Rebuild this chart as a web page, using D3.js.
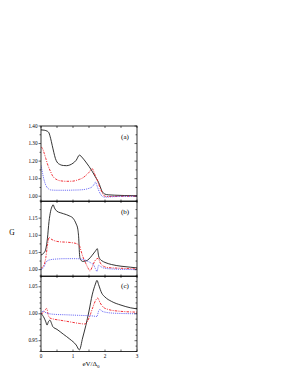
<!DOCTYPE html>
<html><head><meta charset="utf-8">
<script src="https://cdn.jsdelivr.net/npm/d3@7"></script>
<style>body{margin:0;background:#fff}svg{display:block}</style>
</head><body><svg id="c" width="291" height="376"></svg>
<script>
// ---- data ----
const panelLabels = ["(a)", "(b)", "(c)"];
const yDomains = [[0.97, 1.40], [0.98, 1.20], [0.93, 1.07]];
const yMajorTicks = [[1.00, 1.10, 1.20, 1.30, 1.40], [1.00, 1.05, 1.10, 1.15], [0.95, 1.00, 1.05]];
const yMinorStep = [0.05, 0.025, 0.01];
const xTicks = [0, 1, 2, 3];

const aBlackX = [0,0.1,0.2,0.25,0.3,0.35,0.4,0.45,0.5,0.6,0.7,0.8,0.9,1.0,1.1,1.2,1.3,1.4,1.5,1.6,1.7,1.8,1.85,1.9,1.95,2.0,2.1,2.3,2.6,3.0];
const aBlackY = [1.378,1.376,1.370,1.36,1.33,1.29,1.25,1.215,1.195,1.18,1.175,1.174,1.178,1.188,1.205,1.234,1.218,1.195,1.17,1.142,1.11,1.078,1.055,1.03,1.018,1.012,1.008,1.006,1.004,1.003];
const aRedX = [0,0.05,0.1,0.15,0.2,0.25,0.3,0.35,0.4,0.5,0.6,0.8,1.0,1.1,1.2,1.3,1.4,1.5,1.6,1.65,1.7,1.75,1.8,1.85,1.9,1.95,2.0,2.1,2.3,3.0];
const aRedY = [1.282,1.27,1.245,1.215,1.185,1.16,1.14,1.12,1.107,1.094,1.088,1.085,1.086,1.09,1.096,1.104,1.118,1.136,1.157,1.14,1.115,1.095,1.07,1.045,1.025,1.008,1.0,0.998,0.999,1.0];
const aBlueX = [0,0.05,0.1,0.15,0.2,0.25,0.3,0.5,0.8,1.0,1.2,1.4,1.5,1.6,1.65,1.7,1.75,1.8,1.85,1.9,1.95,2.0,2.2,2.5,3.0];
const aBlueY = [1.175,1.13,1.09,1.063,1.048,1.04,1.036,1.034,1.034,1.035,1.036,1.04,1.045,1.054,1.065,1.08,1.06,1.035,1.015,1.002,0.996,0.995,0.997,0.999,1.0];

const bBlackX = [0,0.05,0.1,0.15,0.2,0.25,0.3,0.35,0.38,0.42,0.5,0.6,0.7,0.8,0.9,1.0,1.05,1.1,1.15,1.18,1.2,1.22,1.3,1.4,1.5,1.6,1.7,1.76,1.8,1.85,1.9,2.0,2.2,2.5,2.8,3.0];
const bBlackY = [1.043,1.045,1.05,1.06,1.09,1.14,1.17,1.185,1.189,1.18,1.17,1.166,1.163,1.16,1.156,1.15,1.143,1.133,1.118,1.09,1.05,1.033,1.024,1.025,1.031,1.042,1.054,1.061,1.04,1.03,1.026,1.021,1.015,1.01,1.007,1.005];
const bRedX = [0,0.05,0.1,0.15,0.2,0.25,0.3,0.4,0.6,0.8,1.0,1.1,1.2,1.25,1.3,1.4,1.48,1.53,1.6,1.68,1.75,1.79,1.85,1.95,2.1,2.5,3.0];
const bRedY = [1.003,1.008,1.015,1.035,1.07,1.094,1.09,1.085,1.081,1.08,1.078,1.076,1.07,1.055,1.04,1.018,1.003,0.996,1.008,1.025,1.032,1.033,1.02,1.01,1.006,1.004,1.002];
const bBlueX = [0,0.05,0.1,0.15,0.2,0.3,0.5,0.8,1.1,1.3,1.45,1.55,1.65,1.7,1.75,1.8,1.85,1.95,2.2,3.0];
const bBlueY = [1.0,1.003,1.01,1.02,1.026,1.029,1.031,1.032,1.032,1.03,1.025,1.02,1.013,1.003,0.995,1.013,1.01,1.005,1.002,1.0];

const cBlackX = [0,0.05,0.1,0.15,0.19,0.23,0.28,0.33,0.37,0.5,0.7,0.9,1.1,1.2,1.3,1.4,1.5,1.6,1.7,1.75,1.8,1.9,2.0,2.2,2.5,2.8,3.0];
const cBlackY = [1.001,0.997,0.992,0.985,0.979,0.985,0.988,0.982,0.976,0.971,0.962,0.953,0.942,0.933,0.955,0.978,1.005,1.035,1.055,1.062,1.054,1.038,1.031,1.023,1.016,1.011,1.009];
const cRedX = [0,0.07,0.12,0.18,0.22,0.28,0.4,0.6,0.9,1.2,1.37,1.45,1.55,1.62,1.7,1.77,1.85,1.95,2.1,2.4,3.0];
const cRedY = [1.0,1.002,1.006,1.01,0.999,0.992,0.99,0.988,0.985,0.982,0.981,0.986,1.0,1.012,1.024,1.029,1.02,1.012,1.008,1.005,1.003];
const cBlueX = [0,0.07,0.12,0.2,0.4,0.8,1.2,1.6,1.75,1.8,1.84,1.9,2.0,2.3,3.0];
const cBlueY = [1.0,1.005,1.003,1.001,0.999,0.998,0.997,0.996,0.995,1.005,1.008,1.005,1.003,1.001,1.0];

const panels = [
  [[aBlackX,aBlackY],[aRedX,aRedY],[aBlueX,aBlueY]],
  [[bBlackX,bBlackY],[bRedX,bRedY],[bBlueX,bBlueY]],
  [[cBlackX,cBlackY],[cRedX,cRedY],[cBlueX,cBlueY]]
];
const styles = [
  {stroke:"#111", dash:null, w:0.85},
  {stroke:"#ee1c24", dash:"2.5,1.2,1,1.2", w:0.9},
  {stroke:"#4a4af2", dash:"0.9,1", w:0.9}
];

// ---- layout ----
const L = 41, R = 137;
const tops = [126, 201, 276], H = 75.5;
const svg = d3.select("#c");
const x = d3.scaleLinear().domain([0, 3]).range([L, R]);
const font = "'Liberation Serif','Times New Roman',serif";

panels.forEach((series, i) => {
  const top = tops[i], bot = top + H;
  const y = d3.scaleLinear().domain(yDomains[i]).range([bot, top]);
  const g = svg.append("g");
  const clipId = "clip" + i;
  g.append("clipPath").attr("id", clipId).append("rect")
    .attr("x", L).attr("y", top).attr("width", R - L).attr("height", H);

  const line = d3.line().x(d => x(d[0])).y(d => y(d[1])).curve(d3.curveMonotoneX);
  series.forEach((s, k) => {
    const pts = s[0].map((v, j) => [v, s[1][j]]);
    g.append("path").attr("d", line(pts)).attr("fill", "none")
      .attr("stroke", styles[k].stroke).attr("stroke-width", styles[k].w)
      .attr("stroke-dasharray", styles[k].dash)
      .attr("clip-path", `url(#${clipId})`);
  });

  // frame
  g.append("rect").attr("x", L).attr("y", top).attr("width", R - L).attr("height", H)
    .attr("fill", "none").attr("stroke", "#000").attr("stroke-width", 0.8);

  // y ticks
  const [d0, d1] = yDomains[i];
  const minor = d3.range(Math.ceil(d0 / yMinorStep[i] - 1e-6), Math.floor(d1 / yMinorStep[i] + 1e-6) + 1)
    .map(k => +(k * yMinorStep[i]).toFixed(4));
  minor.forEach(v => {
    const isMaj = yMajorTicks[i].some(m => Math.abs(m - v) < 1e-6);
    const len = isMaj ? 2.5 : 1.5;
    g.append("line").attr("x1", L - len).attr("x2", L).attr("y1", y(v)).attr("y2", y(v))
      .attr("stroke", "#000").attr("stroke-width", 0.6);
    g.append("line").attr("x1", R - len).attr("x2", R).attr("y1", y(v)).attr("y2", y(v))
      .attr("stroke", "#000").attr("stroke-width", 0.6);
  });
  yMajorTicks[i].forEach(v => {
    g.append("text").attr("x", L - 3.5).attr("y", y(v) + 1.7)
      .attr("text-anchor", "end").attr("font-family", font).attr("font-size", 5.2)
      .attr("fill", "#000")
      .text(d3.format(".2f")(v));
  });

  // x ticks top and bottom (inward)
  d3.range(0, 3.01, 0.5).forEach(v => {
    g.append("line").attr("x1", x(v)).attr("x2", x(v)).attr("y1", top).attr("y2", top + 2)
      .attr("stroke", "#000").attr("stroke-width", 0.6);
    g.append("line").attr("x1", x(v)).attr("x2", x(v)).attr("y1", bot).attr("y2", bot - 2)
      .attr("stroke", "#000").attr("stroke-width", 0.6);
  });

  g.append("text").attr("x", 125).attr("y", top + (i === 2 ? 12 : 13))
    .attr("text-anchor", "middle").attr("font-family", font).attr("font-size", 7)
    .attr("fill", "#000")
    .text(panelLabels[i]);
});

// x tick labels
const bottom = tops[2] + H;
xTicks.forEach(v => {
  svg.append("text").attr("x", x(v)).attr("y", bottom + 6.5)
    .attr("text-anchor", "middle").attr("font-family", font).attr("font-size", 5.2)
    .attr("fill", "#000")
    .text(v);
});

// axis titles
const xt = svg.append("text").attr("x", 91).attr("y", 366)
  .attr("text-anchor", "middle").attr("font-family", font).attr("font-size", 7)
  .attr("fill", "#000");
xt.append("tspan").text("eV/Δ");
xt.append("tspan").attr("font-size", 5).attr("dy", 1.5).text("0");

svg.append("text").attr("x", 12).attr("y", 235)
  .attr("text-anchor", "middle").attr("font-family", font).attr("font-size", 7.5)
  .attr("fill", "#000")
  .text("G");
</script>
</body></html>
